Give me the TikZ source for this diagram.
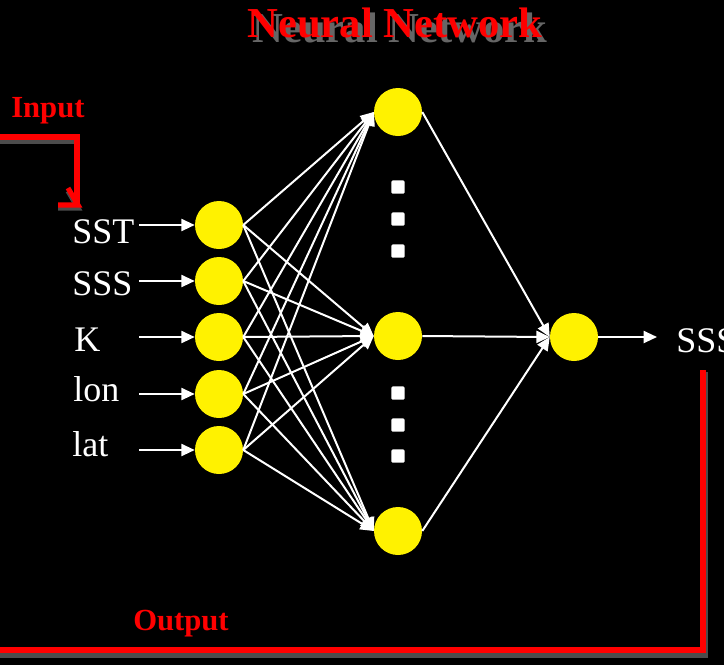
\documentclass[tikz,border=0pt]{standalone}
\usepackage{fontspec}
\setmainfont{Liberation Serif}
\usetikzlibrary{arrows.meta, calc}
\tikzset{%
    wir/.style={white, line width=1.5pt},
    wira/.style={white, line width=1.5pt, -{Triangle[length=10pt, width=9pt]}},
    neu/.style={circle, fill=yellow, minimum size=36pt, inner sep=0pt},
    sq/.style={rectangle, fill=white, rounded corners=1pt, minimum size=10pt, inner sep=0pt},
    lab/.style={white, font=\fontsize{27}{27}\selectfont, inner sep=0pt, anchor=base west},
    rlab/.style={red, font=\fontsize{23}{23}\selectfont\bfseries, inner sep=0pt, anchor=base west},
    rline/.style={red, line width=3.8pt},
    shline/.style={black!70!white, line width=3.8pt},
}
\begin{document}
\begin{tikzpicture}[x=0.75pt, y=-0.75pt]
    \fill[black] (0,0) rectangle (724,665);
    \clip (0,0) rectangle (724,665);
    % title
    \node (titsh) [anchor=base, text=black!60!white, inner sep=0pt,
        font=\fontsize{32}{32}\selectfont\bfseries] at (400,42) {Neural Network};
    \node (tit) [anchor=base, text=red, inner sep=0pt,
        font=\fontsize{32}{32}\selectfont\bfseries] at (395,37) {Neural Network};
    % feedback lines
    \draw [shline] (0,141) -- (77,141) -- (77,208);
    \draw [shline] (68,191) -- (78,208) -- (58,208);
    \draw [rline] (0,137) -- (77,137) -- (77,205);
    \draw [rline, line join=miter] (68,188) -- (78,205) -- (58,205);
    \draw [shline] (705,372) -- (705,655) -- (0,655);
    \draw [rline] (703,370) -- (703,650) -- (0,650);
    \node (inp) [rlab] at (11,117) {Input};
    \node (outp) [rlab] at (133,630) {Output};
    % neurons
    \node (i1) [neu] at (219,225) {};
    \node (i2) [neu] at (219,281) {};
    \node (i3) [neu] at (219,337) {};
    \node (i4) [neu] at (219,394) {};
    \node (i5) [neu] at (219,450) {};
    \node (h1) [neu] at (398,112) {};
    \node (h2) [neu] at (398,336) {};
    \node (h3) [neu] at (398,531) {};
    \node (o) [neu] at (574,337) {};
    \foreach \y in {187,219,251,393,425,456}
        \node (d\y) [sq] at (398,\y) {};
    % inputs
    \node (lsst) [lab] at (72,243) {SST};
    \node (lsss) [lab] at (72,295) {SSS};
    \node (lk) [lab] at (74,351) {K};
    \node (llon) [lab] at (73,401) {lon};
    \node (llat) [lab] at (72,456) {lat};
    \node (lout) [lab] at (676,352) {SSS};
    \coordinate (c1) at (139,225);
    \coordinate (c2) at (139,281);
    \coordinate (c3) at (139,337);
    \coordinate (c4) at (139,394);
    \coordinate (c5) at (139,450);
    \coordinate (cy) at (657,337);
    \foreach \k in {1,...,5}
        \draw [wira] (c\k) -- (i\k.west);
    \foreach \k in {1,...,5}
        \foreach \j in {1,2,3}
            \draw [wira] (i\k.east) -- (h\j.west);
    \foreach \j in {1,2,3}
        \draw [wira] (h\j.east) -- (o.west);
    \draw [wira] (o.east) -- (cy);
\end{tikzpicture}
\end{document}
